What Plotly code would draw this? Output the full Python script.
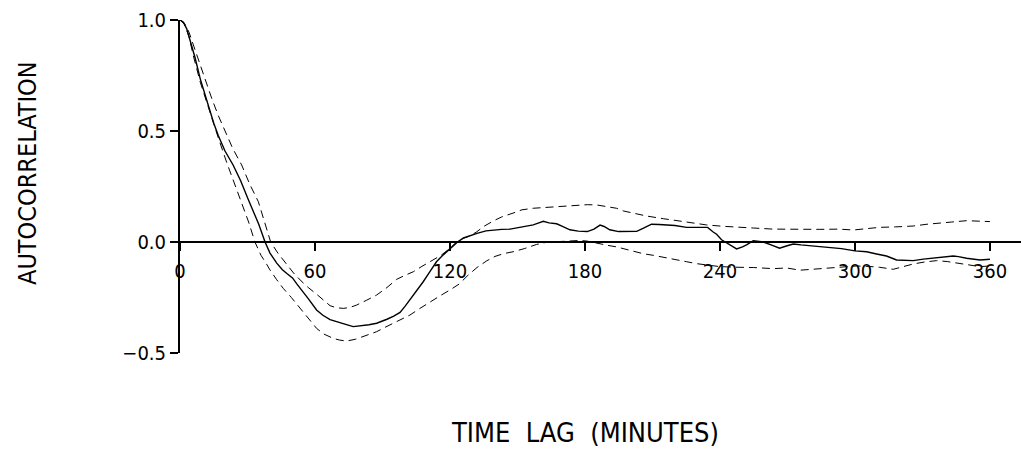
import plotly.graph_objects as go

# ---- data ----
lag_acf = [0, 1.5, 3, 5, 6.7, 9, 12.4, 15, 17, 20, 23.6, 27, 30.2, 33, 35, 37.8, 40, 43, 45.5, 47.5,
           50, 52, 54.8, 57, 60.7, 63.5, 66.7, 69, 71, 74, 77, 80, 81.5, 84, 87.4, 90, 92, 95, 97.8,
           100, 102.2, 105, 108.1, 111, 114, 117, 120, 123, 126, 129, 132, 136, 139.3, 143, 146.7,
           150, 154, 157, 159.5, 161.5, 164, 167.4, 170, 173.3, 177, 181, 184, 186.7, 188.5, 191,
           195, 200, 203, 206, 209.6, 213, 216.3, 220, 225.2, 230, 234.5, 237, 238.5, 240.7, 242.2,
           245, 247.4, 250, 252, 254.8, 257, 259.3, 263, 266.5, 269.5, 272.6, 276, 280, 287.4, 294,
           300, 305.2, 309.6, 314, 318.5, 322, 325.9, 330.4, 337.8, 343.7, 346, 349.6, 355.6, 360]
acf = [1.000, 0.990, 0.960, 0.895, 0.830, 0.735, 0.617, 0.535, 0.480, 0.410, 0.347, 0.275, 0.195,
       0.130, 0.080, 0.000, -0.050, -0.095, -0.125, -0.142, -0.162, -0.190, -0.224, -0.255, -0.306,
       -0.330, -0.350, -0.358, -0.365, -0.372, -0.381, -0.378, -0.377, -0.373, -0.366, -0.357,
       -0.348, -0.334, -0.317, -0.290, -0.261, -0.220, -0.179, -0.135, -0.089, -0.058, -0.029,
       -0.003, 0.018, 0.030, 0.039, 0.050, 0.054, 0.057, 0.058, 0.064, 0.072, 0.077, 0.086, 0.093,
       0.086, 0.082, 0.070, 0.055, 0.049, 0.047, 0.058, 0.076, 0.070, 0.055, 0.047, 0.046, 0.048,
       0.062, 0.080, 0.079, 0.077, 0.074, 0.066, 0.066, 0.066, 0.045, 0.035, 0.010, 0.000, -0.018,
       -0.031, -0.022, -0.012, 0.006, 0.004, 0.000, -0.014, -0.028, -0.018, -0.009, -0.013, -0.017,
       -0.024, -0.030, -0.040, -0.044, -0.054, -0.063, -0.081, -0.083, -0.084, -0.077, -0.071,
       -0.063, -0.066, -0.073, -0.081, -0.078]

lag_upper = [0, 2, 4, 6, 8.1, 11, 14.1, 17, 20, 23.5, 27.4, 31, 34.8, 37.5, 40.3, 43.5, 47.4, 50.5,
             53.8, 57, 60.7, 63.5, 66.7, 69.5, 72.6, 75.5, 78.5, 83, 87.4, 92, 96.3, 100, 103.7,
             107.5, 111.5, 116, 120, 123, 126, 129, 131.9, 135, 139.3, 143, 148, 152, 157, 162,
             167.4, 172, 176.3, 181, 185.2, 190, 194, 197, 202, 207.4, 214.8, 220.7, 226, 231, 234,
             241, 248.9, 254.8, 263.7, 269.6, 276, 284.4, 293, 299.3, 305, 311, 318, 325.9, 332,
             337.8, 343, 349.6, 354, 358.5, 360]
upper = [1.000, 0.985, 0.945, 0.885, 0.827, 0.740, 0.647, 0.570, 0.497, 0.420, 0.347, 0.260, 0.182,
         0.090, 0.000, -0.050, -0.100, -0.140, -0.175, -0.205, -0.235, -0.260, -0.287, -0.296,
         -0.299, -0.295, -0.284, -0.262, -0.239, -0.205, -0.168, -0.150, -0.134, -0.110, -0.087,
         -0.060, -0.029, 0.000, 0.017, 0.028, 0.046, 0.070, 0.095, 0.113, 0.130, 0.145, 0.152,
         0.155, 0.159, 0.164, 0.167, 0.168, 0.167, 0.160, 0.152, 0.140, 0.128, 0.117, 0.105, 0.096,
         0.088, 0.082, 0.077, 0.071, 0.065, 0.063, 0.058, 0.057, 0.057, 0.057, 0.058, 0.054, 0.060,
         0.066, 0.068, 0.072, 0.080, 0.087, 0.090, 0.096, 0.094, 0.091, 0.092]

lag_lower = [0, 2, 4, 5.9, 9, 12.6, 15, 17, 20.7, 24, 27.4, 30.5, 33.3, 36, 38.5, 40, 43, 45.9, 49.5,
             53.3, 57, 60.7, 64, 68.1, 71, 74.1, 78, 81.5, 87.4, 91, 94.8, 98.5, 102.2, 106.5,
             111.1, 115.5, 120, 124, 128, 132, 136.3, 140, 144, 148, 153, 158.5, 163, 167.4, 172,
             177.8, 181, 185.2, 190, 194, 198, 201.5, 206, 210.4, 215, 219, 225.2, 230, 234, 240,
             248.9, 254.8, 263.7, 269.6, 275.6, 280, 285.9, 290.4, 295, 300.7, 306, 311, 317, 321,
             325.9, 331, 336.3, 341, 346.7, 351, 355.6, 360]
lower = [1.000, 0.980, 0.925, 0.840, 0.720, 0.605, 0.530, 0.470, 0.360, 0.270, 0.182, 0.090, 0.000,
         -0.060, -0.100, -0.126, -0.170, -0.209, -0.250, -0.299, -0.345, -0.389, -0.415, -0.434,
         -0.442, -0.446, -0.438, -0.426, -0.404, -0.385, -0.366, -0.348, -0.329, -0.300, -0.269,
         -0.243, -0.216, -0.190, -0.150, -0.115, -0.085, -0.065, -0.052, -0.044, -0.030, -0.011,
         -0.001, 0.001, 0.004, 0.007, 0.004, -0.006, -0.015, -0.022, -0.033, -0.044, -0.053,
         -0.060, -0.068, -0.075, -0.089, -0.098, -0.104, -0.111, -0.114, -0.115, -0.120, -0.117,
         -0.127, -0.124, -0.118, -0.114, -0.112, -0.108, -0.110, -0.114, -0.123, -0.113, -0.099,
         -0.090, -0.084, -0.088, -0.096, -0.103, -0.111, -0.108]

x_ticks = [0, 60, 120, 180, 240, 300, 360]
y_ticks = [-0.5, 0.0, 0.5, 1.0]
y_tick_text = ["\u22120.5", "0.0", "0.5", "1.0"]

FONT = "Liberation Sans Narrow, DejaVu Sans Condensed, Arial Narrow, sans-serif"

fig = go.Figure()
fig.add_trace(go.Scatter(x=lag_upper, y=upper, mode="lines",
                         line=dict(color="black", width=1, dash="8px,5px"), showlegend=False))
fig.add_trace(go.Scatter(x=lag_lower, y=lower, mode="lines",
                         line=dict(color="black", width=1, dash="8px,5px"), showlegend=False))
fig.add_trace(go.Scatter(x=lag_acf, y=acf, mode="lines",
                         line=dict(color="black", width=1.4), showlegend=False))

fig.update_layout(
    width=1021, height=451,
    margin=dict(l=180, r=0, t=20, b=98),
    paper_bgcolor="white", plot_bgcolor="white",
    font=dict(family=FONT, color="black", size=19),
    xaxis=dict(range=[0, 373.8], anchor="free", position=1/3,
               showline=True, linecolor="black", linewidth=1.5,
               ticks="outside", ticklen=8, tickwidth=1.5, tickcolor="black",
               tickvals=x_ticks, ticktext=[str(v) for v in x_ticks],
               tickfont=dict(size=20, family=FONT), ticklabelstandoff=3,
               showgrid=False, zeroline=False),
    yaxis=dict(range=[-0.5, 1.0],
               showline=True, linecolor="black", linewidth=2,
               ticks="outside", ticklen=8, tickwidth=1.5, tickcolor="black",
               tickvals=y_ticks, ticktext=y_tick_text,
               tickfont=dict(size=20, family=FONT),
               showgrid=False, zeroline=False),
    annotations=[
        dict(text="TIME\u00a0\u00a0LAG\u00a0\u00a0(MINUTES)", xref="paper", yref="paper",
             x=(585 - 180) / 841, y=(353 - 432) / 333, xanchor="center", yanchor="middle",
             showarrow=False, font=dict(size=27, family=FONT, color="black")),
        dict(text="AUTOCORRELATION", xref="paper", yref="paper", textangle=-90,
             x=(27 - 180) / 841, y=(353 - 173) / 333, xanchor="center", yanchor="middle",
             showarrow=False, font=dict(size=25, family=FONT, color="black")),
    ],
)

fig.write_html("out.html", config={"displayModeBar": False},
               post_script="document.body.style.margin='0';document.body.style.overflow='hidden';")
